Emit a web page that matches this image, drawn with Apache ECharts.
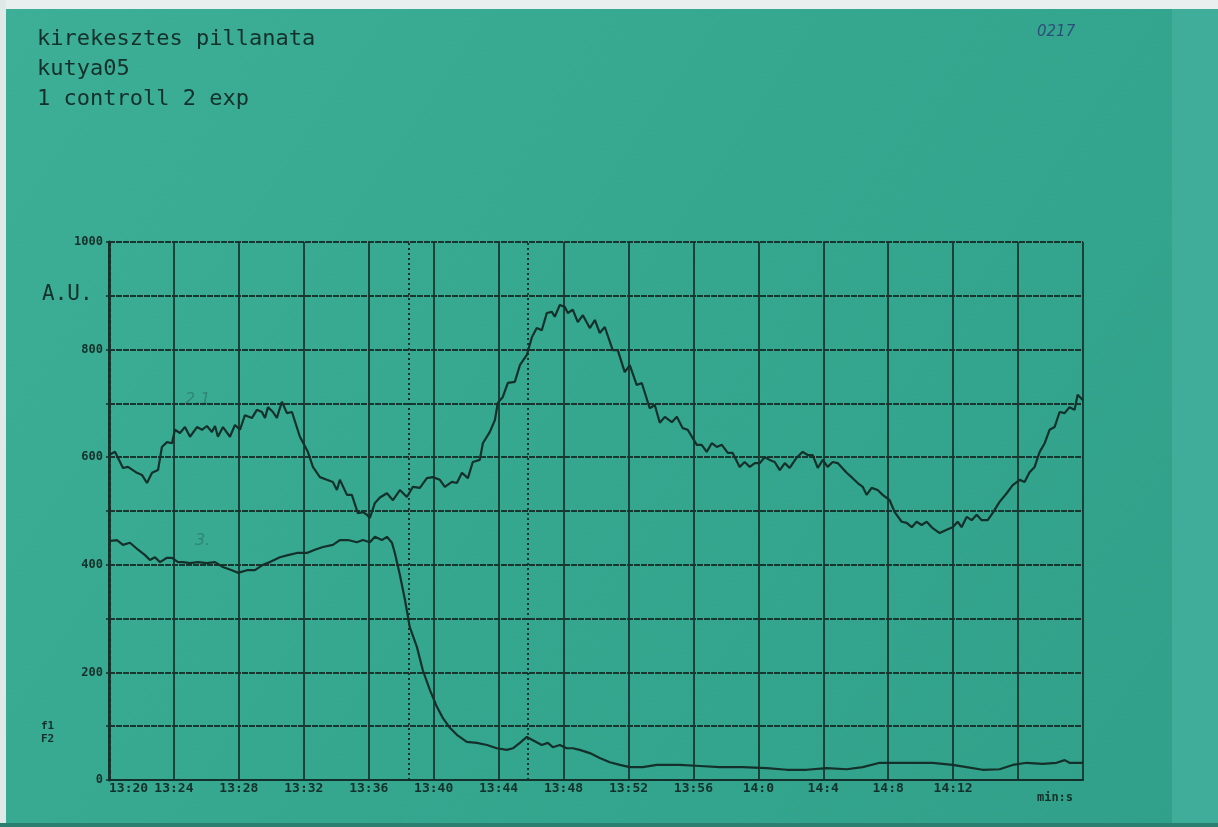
<!DOCTYPE html>
<html>
<head>
<meta charset="utf-8">
<title>kirekesztes pillanata - kutya05</title>
<script src="https://cdn.jsdelivr.net/npm/echarts@6/dist/echarts.min.js"></script>
<style>
  html, body { margin: 0; padding: 0; background: #36a58e; }
  #chart { width: 1218px; height: 827px; }
</style>
</head>
<body>
<div id="chart"></div>
<script>
// Time axis: minutes elapsed since 13:20, one tick every 4 minutes
const xTickLabels = ['13:20', '13:24', '13:28', '13:32', '13:36', '13:40', '13:44', '13:48',
  '13:52', '13:56', '14:0', '14:4', '14:8', '14:12', '', ''];
const yTickLabels = { 0: '0', 200: '200', 400: '400', 600: '600', 800: '800', 1000: '1000' };

// Marker times (minutes since 13:20) drawn as dotted verticals
const markerTimes = [18.45, 25.8];

// Curve 1 (controll)
const controlTime = [0, 0.37, 0.86, 1.17, 1.72, 2.03, 2.34, 2.65, 3.02, 3.26, 3.57, 3.88, 4.06, 4.37,
  4.68, 4.99, 5.42, 5.73, 6.03, 6.34, 6.53, 6.71, 7.02, 7.45, 7.76, 8.07, 8.37, 8.81, 9.11, 9.42,
  9.61, 9.79, 10.10, 10.34, 10.65, 10.96, 11.27, 11.76, 12.25, 12.56, 12.99, 13.42, 13.79, 14.04,
  14.22, 14.66, 14.96, 15.33, 15.64, 15.89, 16.07, 16.38, 16.69, 17.12, 17.49, 17.92, 18.35, 18.72,
  19.15, 19.58, 19.95, 20.38, 20.69, 21.12, 21.43, 21.74, 22.11, 22.41, 22.84, 23.03, 23.46, 23.77,
  23.95, 24.26, 24.57, 25.00, 25.31, 25.74, 26.05, 26.35, 26.66, 26.97, 27.28, 27.46, 27.77, 28.08,
  28.26, 28.57, 28.88, 29.19, 29.62, 29.93, 30.23, 30.54, 31.03, 31.34, 31.77, 32.08, 32.51, 32.82,
  33.31, 33.62, 33.93, 34.24, 34.67, 34.98, 35.34, 35.65, 36.21, 36.51, 36.82, 37.13, 37.44, 37.75,
  38.12, 38.42, 38.85, 39.16, 39.47, 39.78, 40.09, 40.39, 40.70, 41.01, 41.32, 41.63, 41.93, 42.36,
  42.73, 43.04, 43.35, 43.66, 43.97, 44.27, 44.58, 44.89, 45.44, 45.81, 46.12, 46.43, 46.67, 46.98,
  47.35, 47.66, 48.09, 48.40, 48.83, 49.14, 49.45, 49.75, 50.06, 50.37, 50.74, 51.17, 51.60, 51.97,
  52.28, 52.52, 52.83, 53.14, 53.45, 53.76, 54.13, 54.43, 54.86, 55.30, 55.67, 56.10, 56.40, 56.71,
  57.02, 57.33, 57.64, 57.94, 58.25, 58.56, 58.87, 59.17, 59.48, 59.67, 60];
const controlValue = [604, 610, 580, 582, 571, 567, 552, 571, 576, 619, 628, 626, 651, 645,
  656, 638, 656, 651, 658, 647, 658, 638, 656, 638, 660, 651, 678, 673, 688, 684,
  673, 693, 684, 673, 703, 682, 684, 638, 610, 582, 563, 558, 554, 539,
  558, 530, 530, 496, 498, 493, 487, 515, 525, 533, 520, 539, 526, 545,
  543, 561, 563, 558, 545, 554, 552, 571, 561, 591, 595, 626, 647, 669,
  701, 712, 738, 740, 771, 790, 823, 840, 836, 868, 870, 861, 883, 879,
  868, 874, 851, 864, 840, 855, 831, 842, 799, 799, 758, 771, 734, 738,
  691, 697, 664, 675, 665, 675, 654, 651, 623, 623, 610, 626, 619, 623,
  608, 608, 582, 591, 582, 589, 589, 600, 595, 591, 576, 589, 580, 599,
  610, 604, 604, 580, 595, 582, 591, 589, 571, 561, 552, 545, 530, 543,
  539, 530, 520, 498, 480, 478, 470, 480, 474, 480, 468, 459, 465, 470,
  480, 470, 489, 483, 493, 483, 483, 496, 517, 533, 548, 558, 554, 572,
  582, 610, 626, 651, 656, 684, 682, 693, 688, 716, 706];

// Curve 2 (exp)
const expTime = [0, 0.49, 0.86, 1.29, 1.79, 2.22, 2.52, 2.83, 3.14, 3.57, 3.88, 4.25, 4.56, 4.99,
  5.48, 6.03, 6.53, 7.02, 7.57, 7.94, 8.50, 8.99, 9.48, 9.91, 10.53, 11.02, 11.58, 12.19, 12.68,
  13.18, 13.79, 14.22, 14.72, 15.27, 15.64, 16.07, 16.38, 16.81, 17.12, 17.43, 17.61, 17.92, 18.23,
  18.53, 18.97, 19.33, 19.77, 20.20, 20.57, 21.00, 21.43, 22.04, 22.66, 23.28, 23.89, 24.51, 24.88,
  25.31, 25.74, 26.11, 26.66, 27.03, 27.34, 27.77, 28.20, 28.57, 29.00, 29.62, 30.23, 30.85, 31.47,
  32.08, 32.88, 33.74, 35.16, 36.39, 37.62, 39.04, 40.52, 41.75, 42.98, 44.21, 45.44, 46.43, 47.48,
  48.71, 49.94, 50.74, 51.97, 52.83, 53.82, 54.86, 55.67, 56.53, 57.51, 58.37, 58.87, 59.17, 60];
const expValue = [444, 446, 437, 441, 428, 418, 409, 414, 405, 413, 413, 405, 405, 403,
  405, 403, 405, 396, 390, 385, 390, 390, 400, 405, 414, 418, 422, 422, 428,
  433, 437, 446, 446, 442, 446, 442, 452, 446, 452, 441, 422, 381, 335,
  284, 247, 204, 167, 136, 115, 97, 84, 71, 69, 65, 59, 56, 59,
  69, 80, 74, 65, 69, 61, 65, 59, 59, 56, 50, 41, 33, 28,
  24, 24, 28, 28, 26, 24, 24, 22, 19, 19, 22, 20, 24, 32,
  32, 32, 32, 28, 24, 19, 20, 28, 32, 30, 32, 37, 32, 32];

const pairs = (xs, ys) => xs.map((x, i) => [x, ys[i]]);

const ink = '#14302a';
const gridInk = '#173630';
const plotFont = 'DejaVu Sans Mono';

const chart = echarts.init(document.getElementById('chart'), null, { renderer: 'canvas' });

chart.setOption({
  animation: false,
  backgroundColor: {
    type: 'linear', x: 0, y: 0, x2: 1, y2: 1,
    colorStops: [
      { offset: 0, color: '#3daf97' },
      { offset: 0.5, color: '#35a78f' },
      { offset: 1, color: '#31a08a' }
    ]
  },
  grid: { left: 109, right: 135, top: 242, bottom: 47 },
  xAxis: {
    type: 'value',
    min: 0,
    max: 60,
    interval: 4,
    name: 'min:s',
    nameLocation: 'end',
    nameGap: -28,
    nameTextStyle: {
      color: ink, fontFamily: plotFont, fontWeight: 'bold', fontSize: 12,
      align: 'center', verticalAlign: 'top', padding: [12, 0, 0, 0]
    },
    axisLine: { show: true, onZero: false, lineStyle: { color: ink, width: 2.2 } },
    axisTick: { show: false },
    axisLabel: {
      color: ink, fontFamily: plotFont, fontWeight: 'bold', fontSize: 13, margin: 2,
      alignMinLabel: 'left',
      formatter: v => xTickLabels[Math.round(v / 4)] ?? ''
    },
    splitLine: { show: true, lineStyle: { color: gridInk, width: 1.8 } }
  },
  yAxis: {
    type: 'value',
    min: 0,
    max: 1000,
    interval: 100,
    axisLine: { show: true, lineStyle: { color: ink, width: 3, type: [4, 2] } },
    axisTick: { show: true, length: 3, lineStyle: { color: ink, width: 1.5 } },
    axisLabel: {
      color: ink, fontFamily: plotFont, fontWeight: 'bold', fontSize: 12, margin: 6,
      formatter: v => yTickLabels[v] ?? ''
    },
    splitLine: { show: true, lineStyle: { color: gridInk, width: 2, type: [6, 1] } }
  },
  series: [
    {
      name: '1 controll',
      type: 'line',
      data: pairs(controlTime, controlValue),
      showSymbol: false,
      lineStyle: { color: ink, width: 2.2 },
      markLine: {
        silent: true,
        symbol: 'none',
        label: { show: false },
        lineStyle: { color: ink, width: 2, type: [2, 3] },
        data: markerTimes.map(t => ({ xAxis: t }))
      }
    },
    {
      name: '2 exp',
      type: 'line',
      data: pairs(expTime, expValue),
      showSymbol: false,
      lineStyle: { color: ink, width: 2.2 }
    }
  ],
  graphic: [
    // paper edges around the screen
    { type: 'rect', left: 0, top: 0, shape: { width: 1218, height: 9 }, style: { fill: '#e8efee' }, z: -1 },
    { type: 'rect', left: 0, top: 0, shape: { width: 6, height: 827 }, style: { fill: '#dfe9e7' }, z: -1 },
    { type: 'rect', left: 1172, top: 9, shape: { width: 46, height: 818 }, style: { fill: '#40ad9a' }, z: -1 },
    { type: 'rect', left: 0, top: 823, shape: { width: 1218, height: 4 }, style: { fill: '#2a7f70' }, z: -1 },
    // heading lines
    {
      type: 'text', left: 37, top: 24,
      style: {
        text: 'kirekesztes pillanata\nkutya05\n1 controll 2 exp',
        fill: ink, font: '22px "DejaVu Sans Mono"', lineHeight: 30
      }
    },
    { type: 'text', left: 1037, top: 25, style: { text: '0217', fill: '#2c4f7a', font: 'italic 15px "DejaVu Sans"' } },
    { type: 'text', left: 42, top: 284, style: { text: 'A.U.', fill: ink, font: '21px "DejaVu Sans Mono"' } },
    { type: 'text', left: 41, top: 720, style: { text: 'f1\nF2', fill: ink, font: 'bold 11px "DejaVu Sans Mono"', lineHeight: 13 } },
    // pencil notes beside the curves
    { type: 'text', left: 185, top: 392, style: { text: '2.1', fill: 'rgba(30,70,60,0.35)', font: 'italic 16px "DejaVu Sans"' } },
    { type: 'text', left: 195, top: 533, style: { text: '3.', fill: 'rgba(30,70,60,0.35)', font: 'italic 16px "DejaVu Sans"' } }
  ]
});
</script>
</body>
</html>
